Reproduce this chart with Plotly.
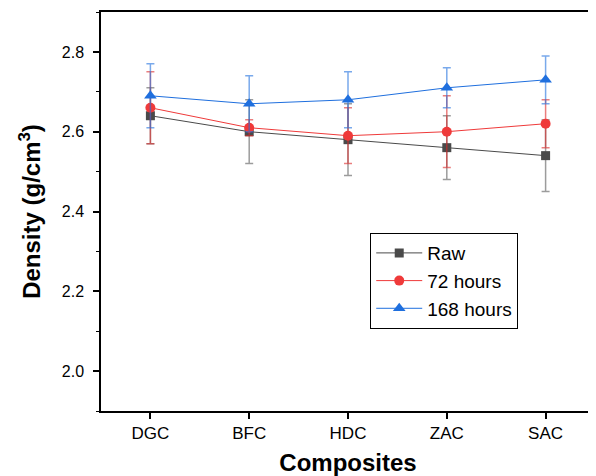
import plotly.graph_objects as go

categories = ["DGC", "BFC", "HDC", "ZAC", "SAC"]
raw = [2.64, 2.60, 2.58, 2.56, 2.54]
raw_err = [0.07, 0.08, 0.09, 0.08, 0.09]
h72 = [2.66, 2.61, 2.59, 2.60, 2.62]
h72_err = [0.09, 0.02, 0.07, 0.09, 0.06]
h168 = [2.69, 2.67, 2.68, 2.71, 2.73]
h168_err = [0.08, 0.07, 0.07, 0.05, 0.06]
y_ticks = [2.0, 2.2, 2.4, 2.6, 2.8]

FONT = "Liberation Sans, Arial, sans-serif"

series = [
    ("Raw", raw, raw_err, "#4a4a4a", "rgba(74,74,74,0.55)", "square", 9),
    ("72 hours", h72, h72_err, "#ef3a3a", "rgba(220,40,40,0.6)", "circle", 10),
    ("168 hours", h168, h168_err, "#1f6fde", "rgba(31,111,222,0.6)", "triangle-up", 11),
]

fig = go.Figure()
for name, vals, errs, col, ecol, sym, size in series:
    fig.add_trace(go.Scatter(
        x=categories, y=vals, name=name, mode="lines+markers",
        line=dict(color=col, width=1),
        marker=dict(symbol=sym, size=size, color=col),
        error_y=dict(type="data", array=errs, visible=True, color=ecol,
                     thickness=1.5, width=4),
    ))

# page body has an 8px margin, so the figure is sized to fit the window
fig.update_layout(
    width=588, height=468,
    margin=dict(l=93, r=1, t=4, b=65),
    paper_bgcolor="white", plot_bgcolor="white",
    font=dict(family=FONT, size=15, color="black"),
    showlegend=True,
    legend=dict(x=0.545, y=0.446, xanchor="left", yanchor="top",
                bgcolor="white", bordercolor="black", borderwidth=1,
                font=dict(family=FONT, size=19), tracegroupgap=0,
                itemwidth=46),
    xaxis=dict(
        range=[-0.5, 4.5], showline=True, linecolor="black", linewidth=1.5,
        mirror=True, ticks="outside", ticklen=6, tickwidth=1.5, tickcolor="black",
        showgrid=False, zeroline=False,
        minor=dict(ticks="outside", ticklen=3, tickwidth=1, tickcolor="black",
                   dtick=0.5, tick0=-0.5, showgrid=False),
        title=dict(text="<b>Composites</b>", font=dict(family=FONT, size=24), standoff=14),
        tickfont=dict(family=FONT, size=17),
        automargin=False,
    ),
    yaxis=dict(
        range=[1.9, 2.9], tickvals=y_ticks, ticktext=[f"{v:.1f}" for v in y_ticks],
        showline=True, linecolor="black", linewidth=1.5,
        ticks="outside", ticklen=6, tickwidth=1.5, tickcolor="black",
        showgrid=False, zeroline=False,
        minor=dict(ticks="outside", ticklen=3, tickwidth=1, tickcolor="black",
                   dtick=0.1, tick0=1.9, showgrid=False),
        title=dict(text="<b>Density (g/cm<sup>3</sup>)</b>", font=dict(family=FONT, size=24), standoff=14),
        tickfont=dict(family=FONT, size=16),
        ticklabelstandoff=6,
        automargin=False,
    ),
)
fig.add_shape(type="line", xref="paper", yref="paper", x0=1, x1=1, y0=0, y1=1,
              line=dict(color="#cccccc", width=1))

fig.write_html("out.html")
